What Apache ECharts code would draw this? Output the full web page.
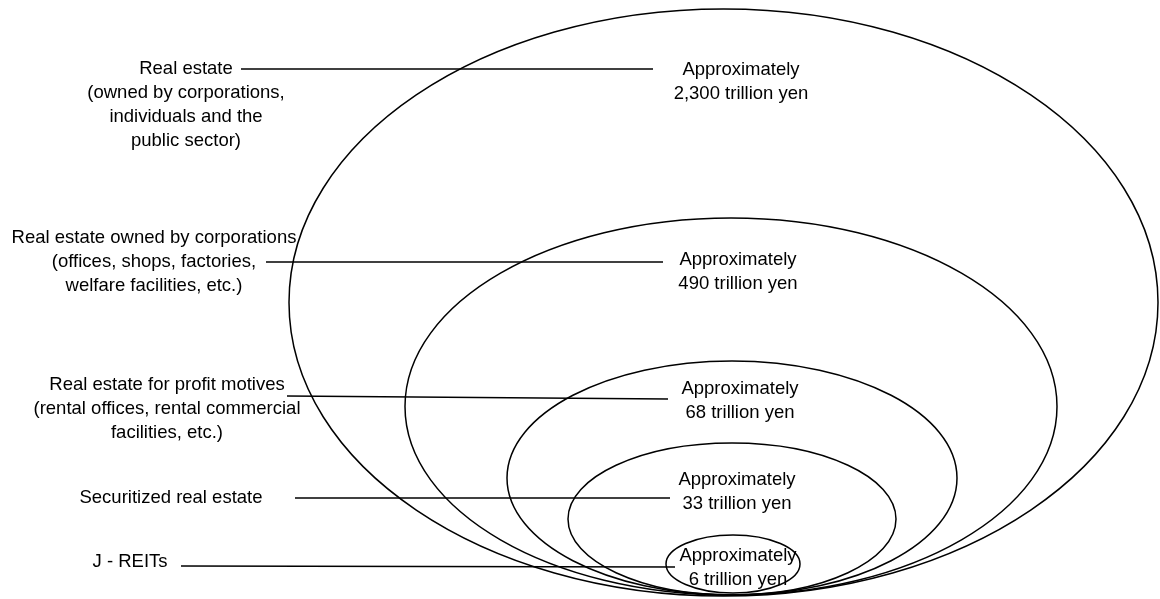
<!DOCTYPE html>
<html>
<head>
<meta charset="utf-8">
<script src="https://cdn.jsdelivr.net/npm/echarts@6/dist/echarts.min.js"></script>
<style>
html,body{margin:0;padding:0;background:#fff;}
#chart{width:1160px;height:599px;}
</style>
</head>
<body>
<div id="chart"></div>
<script>
// ---- data ----
const categories = [
  'Real estate\n(owned by corporations,\nindividuals and the\npublic sector)',
  'Real estate owned by corporations\n(offices, shops, factories,\nwelfare facilities, etc.)',
  'Real estate for profit motives\n(rental offices, rental commercial\nfacilities, etc.)',
  'Securitized real estate',
  'J - REITs'
];
const amounts = [2300, 490, 68, 33, 6]; // trillion yen
const amountLabels = [
  'Approximately\n2,300 trillion yen',
  'Approximately\n490 trillion yen',
  'Approximately\n68 trillion yen',
  'Approximately\n33 trillion yen',
  'Approximately\n6 trillion yen'
];
// ellipse extents in diagram units
const ellipseLeft   = [289, 405, 507, 568, 666];
const ellipseRight  = [1158, 1057, 957, 896, 800];
const ellipseTop    = [9, 218, 361, 443, 535];
const ellipseBottom = [596, 595, 595, 595, 593];

// ---- layout (diagram units) ----
const catLabelX = [186, 154, 167, 171, 130];
const catLabelY = [105, 262, 409, 498, 562];
const amtLabelX = [741, 738, 740, 737, 738];
const amtLabelY = [81.5, 271.5, 400.5, 491.5, 567.5];
const leaderStart = [[241, 69], [266, 262], [287, 396], [295, 498], [181, 566]];
const leaderEnd   = [[653, 69], [663, 262], [668, 399], [670, 498], [675, 567]];

const FONT = '"Liberation Sans", Arial, sans-serif';

const ellipseData = amounts.map((v, i) => [ellipseLeft[i], ellipseRight[i], ellipseTop[i], ellipseBottom[i], v]);
const leaderData = amounts.map((v, i) => [leaderStart[i][0], leaderStart[i][1], leaderEnd[i][0], leaderEnd[i][1]]);
const catData = categories.map((c, i) => ({ value: [catLabelX[i], catLabelY[i]], name: c }));
const amtData = amountLabels.map((c, i) => ({ value: [amtLabelX[i], amtLabelY[i]], name: c }));

const chart = echarts.init(document.getElementById('chart'), null, { renderer: 'canvas' });
chart.setOption({
  backgroundColor: '#ffffff',
  animation: false,
  grid: { left: 0, right: 0, top: 0, bottom: 0 },
  xAxis: { type: 'value', min: 0, max: 1160, show: false },
  yAxis: { type: 'value', min: 0, max: 599, inverse: true, show: false },
  series: [
    {
      type: 'custom',
      name: 'ellipses',
      data: ellipseData,
      renderItem: function (params, api) {
        const p1 = api.coord([api.value(0), api.value(2)]);
        const p2 = api.coord([api.value(1), api.value(3)]);
        return {
          type: 'ellipse',
          shape: {
            cx: (p1[0] + p2[0]) / 2,
            cy: (p1[1] + p2[1]) / 2,
            rx: Math.abs(p2[0] - p1[0]) / 2,
            ry: Math.abs(p2[1] - p1[1]) / 2
          },
          style: { fill: 'none', stroke: '#000', lineWidth: 1.5 }
        };
      }
    },
    {
      type: 'custom',
      name: 'leaders',
      data: leaderData,
      renderItem: function (params, api) {
        const a = api.coord([api.value(0), api.value(1)]);
        const b = api.coord([api.value(2), api.value(3)]);
        return {
          type: 'line',
          shape: { x1: a[0], y1: a[1], x2: b[0], y2: b[1] },
          style: { stroke: '#000', lineWidth: 1.6 }
        };
      }
    },
    {
      type: 'custom',
      name: 'categories',
      data: catData,
      renderItem: function (params, api) {
        const p = api.coord([api.value(0), api.value(1)]);
        return {
          type: 'text',
          x: p[0], y: p[1],
          style: {
            text: categories[params.dataIndex],
            fill: '#000',
            font: '18.5px ' + FONT,
            align: 'center',
            verticalAlign: 'middle',
            lineHeight: 24
          }
        };
      }
    },
    {
      type: 'custom',
      name: 'amounts',
      data: amtData,
      renderItem: function (params, api) {
        const p = api.coord([api.value(0), api.value(1)]);
        return {
          type: 'text',
          x: p[0], y: p[1],
          style: {
            text: amountLabels[params.dataIndex],
            fill: '#000',
            font: '18.5px ' + FONT,
            align: 'center',
            verticalAlign: 'middle',
            lineHeight: 24
          }
        };
      }
    }
  ]
});
</script>
</body>
</html>
